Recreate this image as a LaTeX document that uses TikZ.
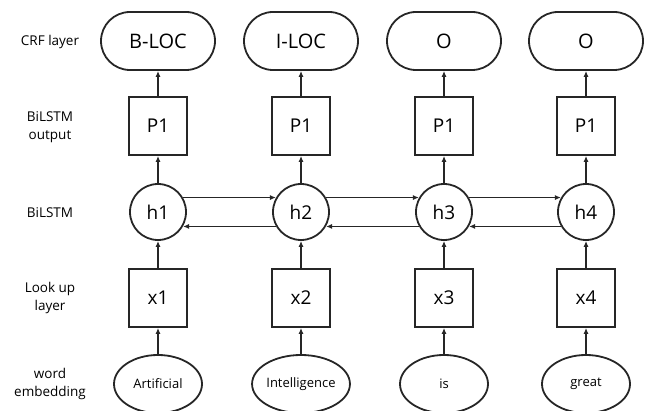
\documentclass[tikz,border=0pt]{standalone}
\usepackage{fontspec}
\setmainfont{Open Sans}
\usetikzlibrary{arrows.meta,shapes.geometric}
\begin{document}
\begin{tikzpicture}[x=1pt,y=-1pt,
  every path/.style={line width=1.8pt},
  pill/.style={draw=black!85, line width=1.8pt, rounded corners=29pt, minimum width=114pt, minimum height=58pt, inner sep=0pt, font=\fontsize{20}{24}\selectfont},
  sq/.style={draw=black!85, line width=1.8pt, minimum width=58pt, minimum height=58pt, inner sep=0pt, font=\fontsize{19}{23}\selectfont},
  hc/.style={draw=black!85, line width=1.8pt, circle, minimum size=56pt, inner sep=0pt, font=\fontsize{19}{23}\selectfont},
  el/.style={draw=black!85, line width=1.8pt, ellipse, minimum width=88pt, minimum height=58pt, inner sep=0pt, font=\fontsize{13}{15}\selectfont},
  lab/.style={align=center, font=\fontsize{13.5}{18}\selectfont},
  arr/.style={-{Latex[length=6pt,width=5pt]}, draw=black!85, line width=1.8pt}]
\useasboundingbox (0,0) rectangle (650,411);
\foreach \i/\x/\t/\w in {1/158/B-LOC/Artificial,2/301/I-LOC/Intelligence,3/444/O/is,4/586/O/great}{
  \node[pill] (c\i) at (\x,41) {\t};
  \node[sq] (p\i) at (\x,126) {P1};
  \node[hc] (h\i) at (\x,212) {h\i};
  \node[sq] (x\i) at (\x,298) {x\i};
  \node[el] (w\i) at (\x,384) {\w};
  \draw[arr] (w\i) -- (x\i);
  \draw[arr] (x\i) -- (h\i);
  \draw[arr] (h\i) -- (p\i);
  \draw[arr] (p\i) -- (c\i);
}
\foreach \a/\b in {1/2,2/3,3/4}{
  \draw[arr] (h\a.30) -- (h\b.150);
  \draw[arr] (h\b.-150) -- (h\a.-30);
}
\node[lab] (l1) at (50,42) {CRF layer};
\node[lab] (l2) at (50,127) {BiLSTM\\output};
\node[lab] (l3) at (50,213) {BiLSTM};
\node[lab] (l4) at (50,298) {Look up\\layer};
\node[lab] (l5) at (50,384) {word\\embedding};
\end{tikzpicture}
\end{document}
